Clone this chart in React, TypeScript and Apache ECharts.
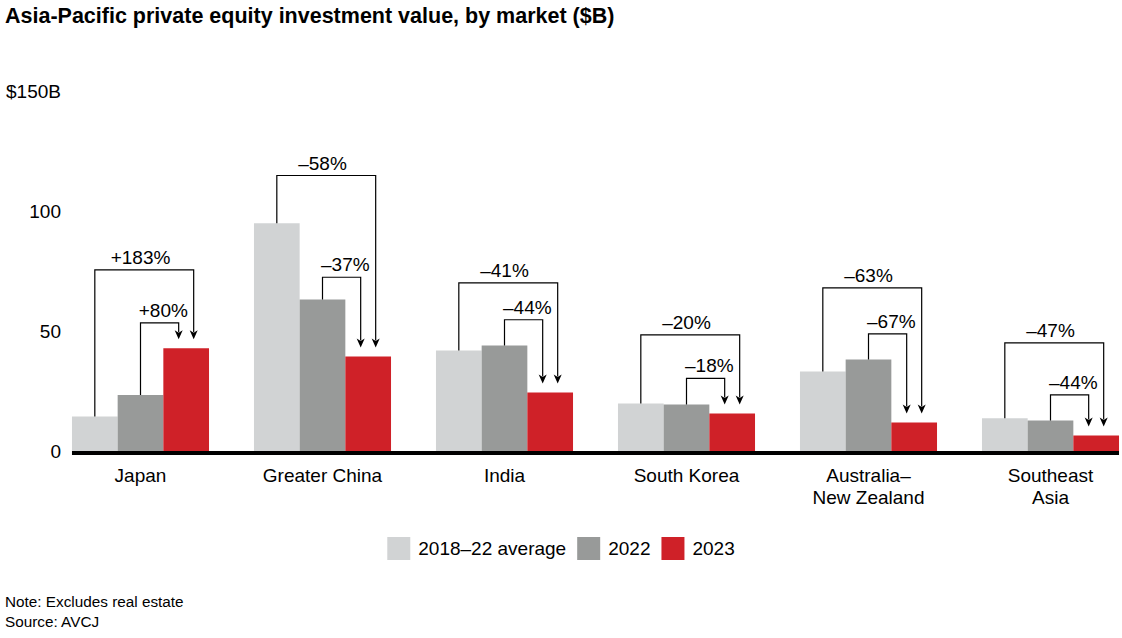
import React, { useEffect, useRef } from "react";
import * as echarts from "echarts";

const categories = ["Japan", "Greater China", "India", "South Korea", "Australia–\nNew Zealand", "Southeast\nAsia"];
const seriesNames = ["2018–22 average", "2022", "2023"];
const avgValues = [14.6, 95.1, 42.1, 20.0, 33.3, 13.9];
const values2022 = [23.5, 63.3, 44.2, 19.6, 38.3, 12.9];
const values2023 = [43.0, 39.6, 24.6, 15.8, 12.1, 6.7];
const outerLevels = [75.7, 115, 70.3, 48.6, 68.2, 45.3];
const innerLevels = [53.6, 72.6, 54.9, 30.5, 49.0, 23.6];
const outerChanges = ["+183%", "–58%", "–41%", "–20%", "–63%", "–47%"];
const innerChanges = ["+80%", "–37%", "–44%", "–18%", "–67%", "–44%"];
const yTicks = [0, 50, 100, 150];
const notes = ["Note: Excludes real estate", "Source: AVCJ"];

const FONT = "'Liberation Sans', Arial, Helvetica, sans-serif";
const COLORS = ["#d1d3d4", "#989a99", "#cf2128"];
const CAT_GAP = 0.247;

export default function App() {
  const ref = useRef<HTMLDivElement>(null);

  useEffect(() => {
    if (!ref.current) return;
    const chart = echarts.init(ref.current, null, { renderer: "svg" });

    const annData = categories.map((_, i) => [
      i,
      avgValues[i],
      values2022[i],
      values2023[i],
      outerLevels[i],
      innerLevels[i],
    ]);

    const arrowHead = (x: number, y: number) => ({
      type: "polygon",
      shape: {
        points: [
          [x - 4, y - 9],
          [x, y - 6.5],
          [x + 4, y - 9],
          [x, y],
        ],
      },
      style: { fill: "#000" },
    });

    const option: any = {
      animation: false,
      backgroundColor: "#fff",
      textStyle: { fontFamily: FONT },
      title: {
        text: "Asia-Pacific private equity investment value, by market ($B)",
        left: 5,
        top: 5,
        padding: 0,
        textStyle: { fontFamily: FONT, fontSize: 21.5, fontWeight: "bold", color: "#000" },
      },
      legend: {
        data: seriesNames,
        left: "center",
        top: 537,
        padding: 0,
        itemWidth: 23,
        itemHeight: 23,
        itemGap: 11,
        icon: "rect",
        textStyle: { fontFamily: FONT, fontSize: 19, color: "#000", padding: [0, 0, 0, 3] },
      },
      grid: { left: 49.5, width: 1092, top: 91.5, height: 360, outerBoundsMode: "none", containLabel: false },
      xAxis: {
        type: "category",
        data: categories,
        axisLine: { show: false },
        axisTick: { show: false },
        axisLabel: { fontFamily: FONT, fontSize: 19, color: "#000", margin: 13, lineHeight: 22 },
      },
      yAxis: {
        type: "value",
        min: 0,
        max: 150,
        interval: 50,
        splitLine: { show: false },
        axisLine: { show: false },
        axisTick: { show: false },
        axisLabel: {
          fontFamily: FONT,
          fontSize: 19,
          color: "#000",
          align: "right",
          margin: -11.5,
          formatter: (v: number) => (v === yTicks[yTicks.length - 1] ? "$" + v + "B" : String(v)),
        },
      },
      graphic: notes.map((t, k) => ({
        type: "text",
        left: 5,
        top: 594 + k * 19.5,
        style: { text: t, fontFamily: FONT, fontSize: 15.3, fill: "#000" },
      })),
      series: [
        {
          name: seriesNames[0],
          type: "bar",
          data: avgValues,
          itemStyle: { color: COLORS[0] },
          barGap: "0%",
          barCategoryGap: CAT_GAP * 100 + "%",
        },
        {
          name: seriesNames[1],
          type: "bar",
          data: values2022,
          itemStyle: { color: COLORS[1] },
          barGap: "0%",
          barCategoryGap: CAT_GAP * 100 + "%",
        },
        {
          name: seriesNames[2],
          type: "bar",
          data: values2023,
          itemStyle: { color: COLORS[2] },
          barGap: "0%",
          barCategoryGap: CAT_GAP * 100 + "%",
        },
        {
          type: "custom",
          z: 5,
          silent: true,
          data: [[0, 0]],
          renderItem: (params: any, api: any) => {
            const band = api.size([1, 0])[0];
            const half = (band * (1 - CAT_GAP)) / 2;
            const p0 = api.coord([0, 0]);
            const p1 = api.coord([categories.length - 1, 0]);
            return {
              type: "line",
              shape: { x1: p0[0] - half, y1: p0[1] + 1.5, x2: p1[0] + half, y2: p1[1] + 1.5 },
              style: { stroke: "#000", lineWidth: 4 },
            };
          },
        },
        {
          type: "custom",
          z: 6,
          silent: true,
          data: annData,
          renderItem: (params: any, api: any) => {
            const i = api.value(0);
            const band = api.size([1, 0])[0];
            const bw = (band * (1 - CAT_GAP)) / 3;
            const cx = api.coord([i, 0])[0];
            const xA = cx - bw;
            const x22 = cx;
            const x23 = cx + bw;
            const yA = api.coord([i, api.value(1)])[1];
            const y22 = api.coord([i, api.value(2)])[1];
            const y23 = api.coord([i, api.value(3)])[1];
            const yO = api.coord([i, api.value(4)])[1];
            const yI = api.coord([i, api.value(5)])[1];
            const tip = y23 - 9;
            const exO = x23 + 7.5;
            const exI = x23 - 7.5;
            const lineStyle = { stroke: "#000", lineWidth: 1.2, fill: null };
            return {
              type: "group",
              children: [
                {
                  type: "polyline",
                  shape: { points: [[xA, yA], [xA, yO], [exO, yO], [exO, tip - 7]] },
                  style: lineStyle,
                },
                arrowHead(exO, tip),
                {
                  type: "polyline",
                  shape: { points: [[x22, y22], [x22, yI], [exI, yI], [exI, tip - 7]] },
                  style: lineStyle,
                },
                arrowHead(exI, tip),
                {
                  type: "text",
                  x: cx,
                  y: yO - 3,
                  style: {
                    text: outerChanges[i],
                    fontFamily: FONT,
                    fontSize: 19,
                    fill: "#000",
                    align: "center",
                    verticalAlign: "bottom",
                  },
                },
                {
                  type: "text",
                  x: (x22 + x23) / 2,
                  y: yI - 3,
                  style: {
                    text: innerChanges[i],
                    fontFamily: FONT,
                    fontSize: 19,
                    fill: "#000",
                    align: "center",
                    verticalAlign: "bottom",
                  },
                },
              ],
            };
          },
        },
      ],
    };

    chart.setOption(option);
    return () => chart.dispose();
  }, []);

  return (
    <div
      ref={ref}
      style={{ position: "fixed", left: 0, top: 0, width: 1122, height: 638, background: "#fff" }}
    />
  );
}
